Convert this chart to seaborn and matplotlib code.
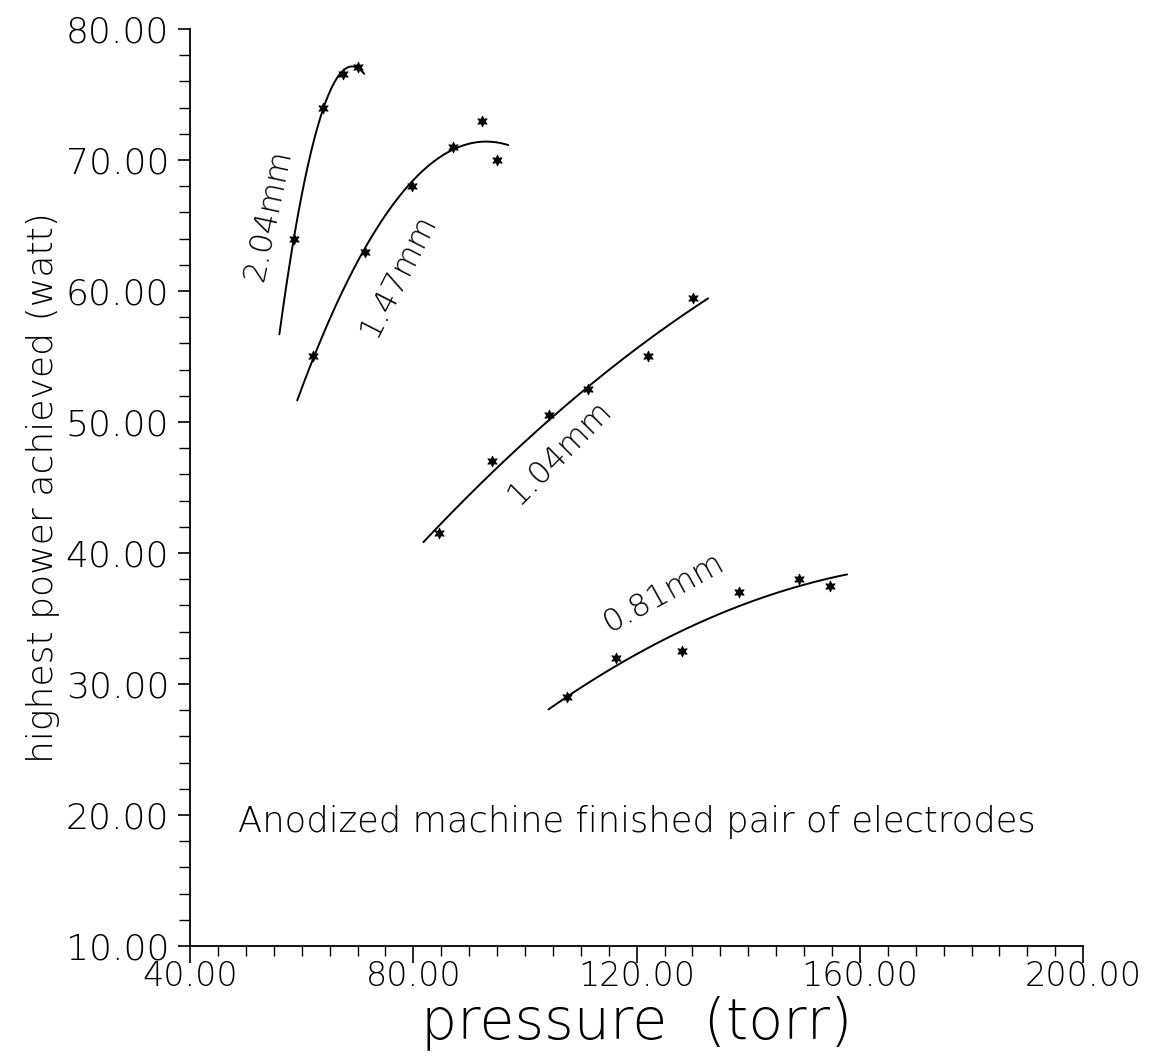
import numpy as np
import pandas as pd
import matplotlib
matplotlib.use("Agg")
import matplotlib.pyplot as plt
from matplotlib.ticker import MultipleLocator, FormatStrFormatter
import seaborn as sns

# measured points for each electrode gap (pressure in torr, power in watt)
gap_labels = ["2.04mm", "1.47mm", "1.04mm", "0.81mm"]

p_204 = [58.6, 63.8, 67.4, 70.1]
w_204 = [64.0, 74.0, 76.6, 77.1]
p_147 = [62.0, 71.4, 79.8, 87.1, 92.3, 95.0]
w_147 = [55.0, 63.0, 68.0, 71.0, 73.0, 70.0]
p_104 = [84.6, 94.1, 104.3, 111.3, 122.1, 130.1]
w_104 = [41.5, 47.0, 50.5, 52.5, 55.0, 59.5]
p_081 = [107.6, 116.3, 128.2, 138.4, 149.0, 154.7]
w_081 = [29.0, 32.0, 32.5, 37.0, 38.0, 37.5]

# pressure span drawn for each fitted curve
fit_start = [56.0, 59.2, 81.8, 104.2]
fit_end = [71.2, 97.0, 132.8, 157.7]

# curve labels
label_x = [54.0, 77.3, 106.1, 124.8]
label_y = [65.8, 61.2, 47.7, 37.0]
label_rot = [78, 63, 45, 29]

note = "Anodized machine finished pair of electrodes"

sns.set_style("ticks")
plt.rcParams['font.family'] = ['DejaVu Sans']
plt.rcParams['text.color'] = 'black'
plt.rcParams['axes.labelcolor'] = 'black'
plt.rcParams['xtick.color'] = 'black'
plt.rcParams['ytick.color'] = 'black'

pressures = [p_204, p_147, p_104, p_081]
powers = [w_204, w_147, w_104, w_081]

fig = plt.figure(figsize=(11.66, 10.61), dpi=100)
ax = fig.add_axes([0.163, 0.1084, 0.766, 0.8643])

star = (6, 1, 0)
for i, gap in enumerate(gap_labels):
    df = pd.DataFrame({"pressure": pressures[i], "power": powers[i]})
    # second order least squares fit through the measured points
    coef = np.polyfit(df["pressure"], df["power"], 2)
    xs = np.linspace(fit_start[i], fit_end[i], 200)
    fit = pd.DataFrame({"pressure": xs, "power": np.polyval(coef, xs)})
    sns.lineplot(data=fit, x="pressure", y="power", ax=ax,
                 color="black", linewidth=1.4)
    sns.scatterplot(data=df, x="pressure", y="power", ax=ax,
                    marker=star, s=60, color="black", edgecolor="black",
                    linewidth=0.6, zorder=3)
    ax.text(label_x[i], label_y[i], gap, rotation=label_rot[i],
            rotation_mode="anchor", ha="center", va="center", fontsize=23,
            fontweight="light")

ax.text(48.6, 19.5, note, ha="left", va="center", fontsize=25.5,
        fontweight="light")

ax.set_xlim(40, 200)
ax.set_ylim(10, 80)
ax.xaxis.set_major_locator(MultipleLocator(40))
ax.xaxis.set_minor_locator(MultipleLocator(5))
ax.yaxis.set_major_locator(MultipleLocator(10))
ax.yaxis.set_minor_locator(MultipleLocator(2))
ax.xaxis.set_major_formatter(FormatStrFormatter("%.2f"))
ax.yaxis.set_major_formatter(FormatStrFormatter("%.2f"))

ax.tick_params(axis="x", which="major", length=12, width=1.2, pad=-2,
               labelsize=24, direction="out")
ax.tick_params(axis="x", which="minor", length=7, width=1.0, direction="out")
ax.tick_params(axis="y", which="major", length=9, width=1.2, pad=6,
               labelsize=26, direction="out")
ax.tick_params(axis="y", which="minor", length=8, width=1.0, direction="out")
for lab in ax.get_xticklabels() + ax.get_yticklabels():
    lab.set_fontweight("light")

for side in ["top", "right"]:
    ax.spines[side].set_visible(False)
for side in ["left", "bottom"]:
    ax.spines[side].set_linewidth(1.3)
    ax.spines[side].set_color("black")

ax.set_xlabel("pressure  (torr)", fontsize=41, labelpad=2, fontweight="light")
ax.set_ylabel("highest power achieved (watt)", fontsize=26, labelpad=4,
              fontweight="light")

fig.savefig("out.png", dpi=100, facecolor="white")
